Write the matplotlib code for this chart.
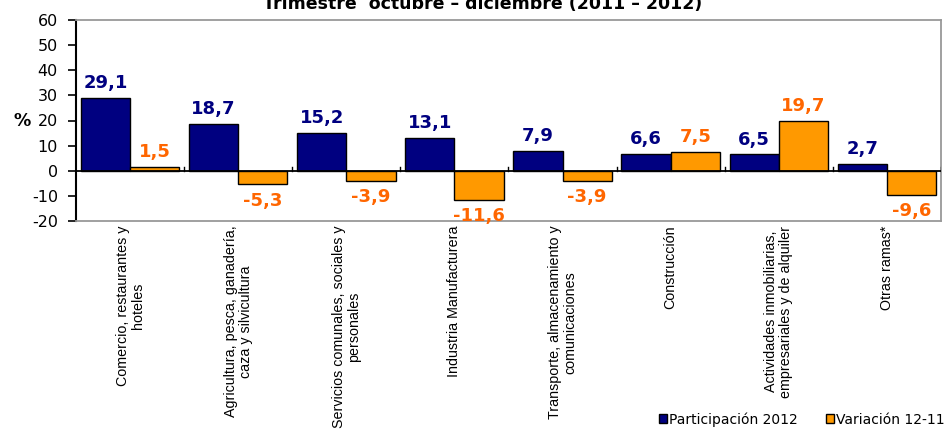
import matplotlib
matplotlib.use("Agg")
import matplotlib.pyplot as plt
import numpy as np

categories = [
    "Comercio, restaurantes y\nhoteles",
    "Agricultura, pesca, ganadería,\ncaza y silvicultura",
    "Servicios comunales, sociales y\npersonales",
    "Industria Manufacturera",
    "Transporte, almacenamiento y\ncomunicaciones",
    "Construcción",
    "Actividades inmobiliarias,\nempresariales y de alquiler",
    "Otras ramas*",
]
participacion = [29.1, 18.7, 15.2, 13.1, 7.9, 6.6, 6.5, 2.7]
variacion = [1.5, -5.3, -3.9, -11.6, -3.9, 7.5, 19.7, -9.6]
yticks = [-20, -10, 0, 10, 20, 30, 40, 50, 60]
title = "Trimestre  octubre – diciembre (2011 – 2012)"

BLUE = "#000080"
ORANGE = "#FF9900"
ORANGE_TXT = "#FF6600"

plt.rcParams['font.family'] = ['DejaVu Sans']

fig = plt.figure(figsize=(9.53, 4.29), dpi=100)
ax = fig.add_axes([76/953, 1-221/429, (941-76)/953, (221-20)/429])

x = np.arange(len(categories))
w = 0.455
ax.bar(x - w/2, participacion, w, color=BLUE, edgecolor='black', linewidth=1.0, label='Participación 2012', zorder=2)
ax.bar(x + w/2, variacion, w, color=ORANGE, edgecolor='black', linewidth=1.0, label='Variación 12-11', zorder=2)

for xi, v in zip(x, participacion):
    ax.text(xi - w/2, v + 2.3, f"{v:.1f}".replace('.', ','), ha='center', va='bottom',
            color=BLUE, fontsize=13, fontweight='bold')
for xi, v in zip(x, variacion):
    if v >= 0:
        ax.text(xi + w/2, v + 2.3, f"{v:.1f}".replace('.', ','), ha='center', va='bottom',
                color=ORANGE_TXT, fontsize=13, fontweight='bold')
    else:
        ax.text(xi + w/2, v - 3.0, f"{v:.1f}".replace('.', ','), ha='center', va='top',
                color=ORANGE_TXT, fontsize=13, fontweight='bold')

ax.set_xlim(-0.5, len(categories) - 0.5)
ax.set_ylim(-20, 60)
ax.set_yticks(yticks)
ax.set_yticklabels([str(t) for t in yticks], fontsize=11.5)
ax.tick_params(axis='y', direction='out', length=6, width=1.2, pad=7)
ax.set_xticks([])

ax.axhline(0, color='black', linewidth=1.3, zorder=3)
for b in np.arange(0.5, len(categories) - 0.5 + 0.01, 1.0):
    ax.plot([b, b], [0, 1.3], color='black', linewidth=1.0, zorder=3)

for s in ['top', 'right', 'bottom']:
    ax.spines[s].set_color('#999999')
    ax.spines[s].set_linewidth(1.3)
ax.spines['left'].set_color('black')
ax.spines['left'].set_linewidth(1.5)

for xi, c in zip(x, categories):
    ax.text(xi, -21.8, c, rotation=90, ha='center', va='top', multialignment='center',
            fontsize=10.3, family=['Liberation Sans Narrow', 'Liberation Sans', 'DejaVu Sans'],
            stretch='condensed', linespacing=1.1)

fig.text(22/953, 1-121/429, "%", fontsize=12.5, fontweight='bold', ha='center', va='center')
fig.text(483/953, 1-9/429, title, fontsize=12.5, fontweight='bold', ha='center', va='baseline')

fig.legend(loc='lower right', bbox_to_anchor=(1.0, -0.014), ncol=2, frameon=False,
           fontsize=10, handlelength=0.6, handleheight=0.6, handletextpad=0.15,
           columnspacing=2.0, borderaxespad=0.2)

fig.savefig("out.png", dpi=100)
